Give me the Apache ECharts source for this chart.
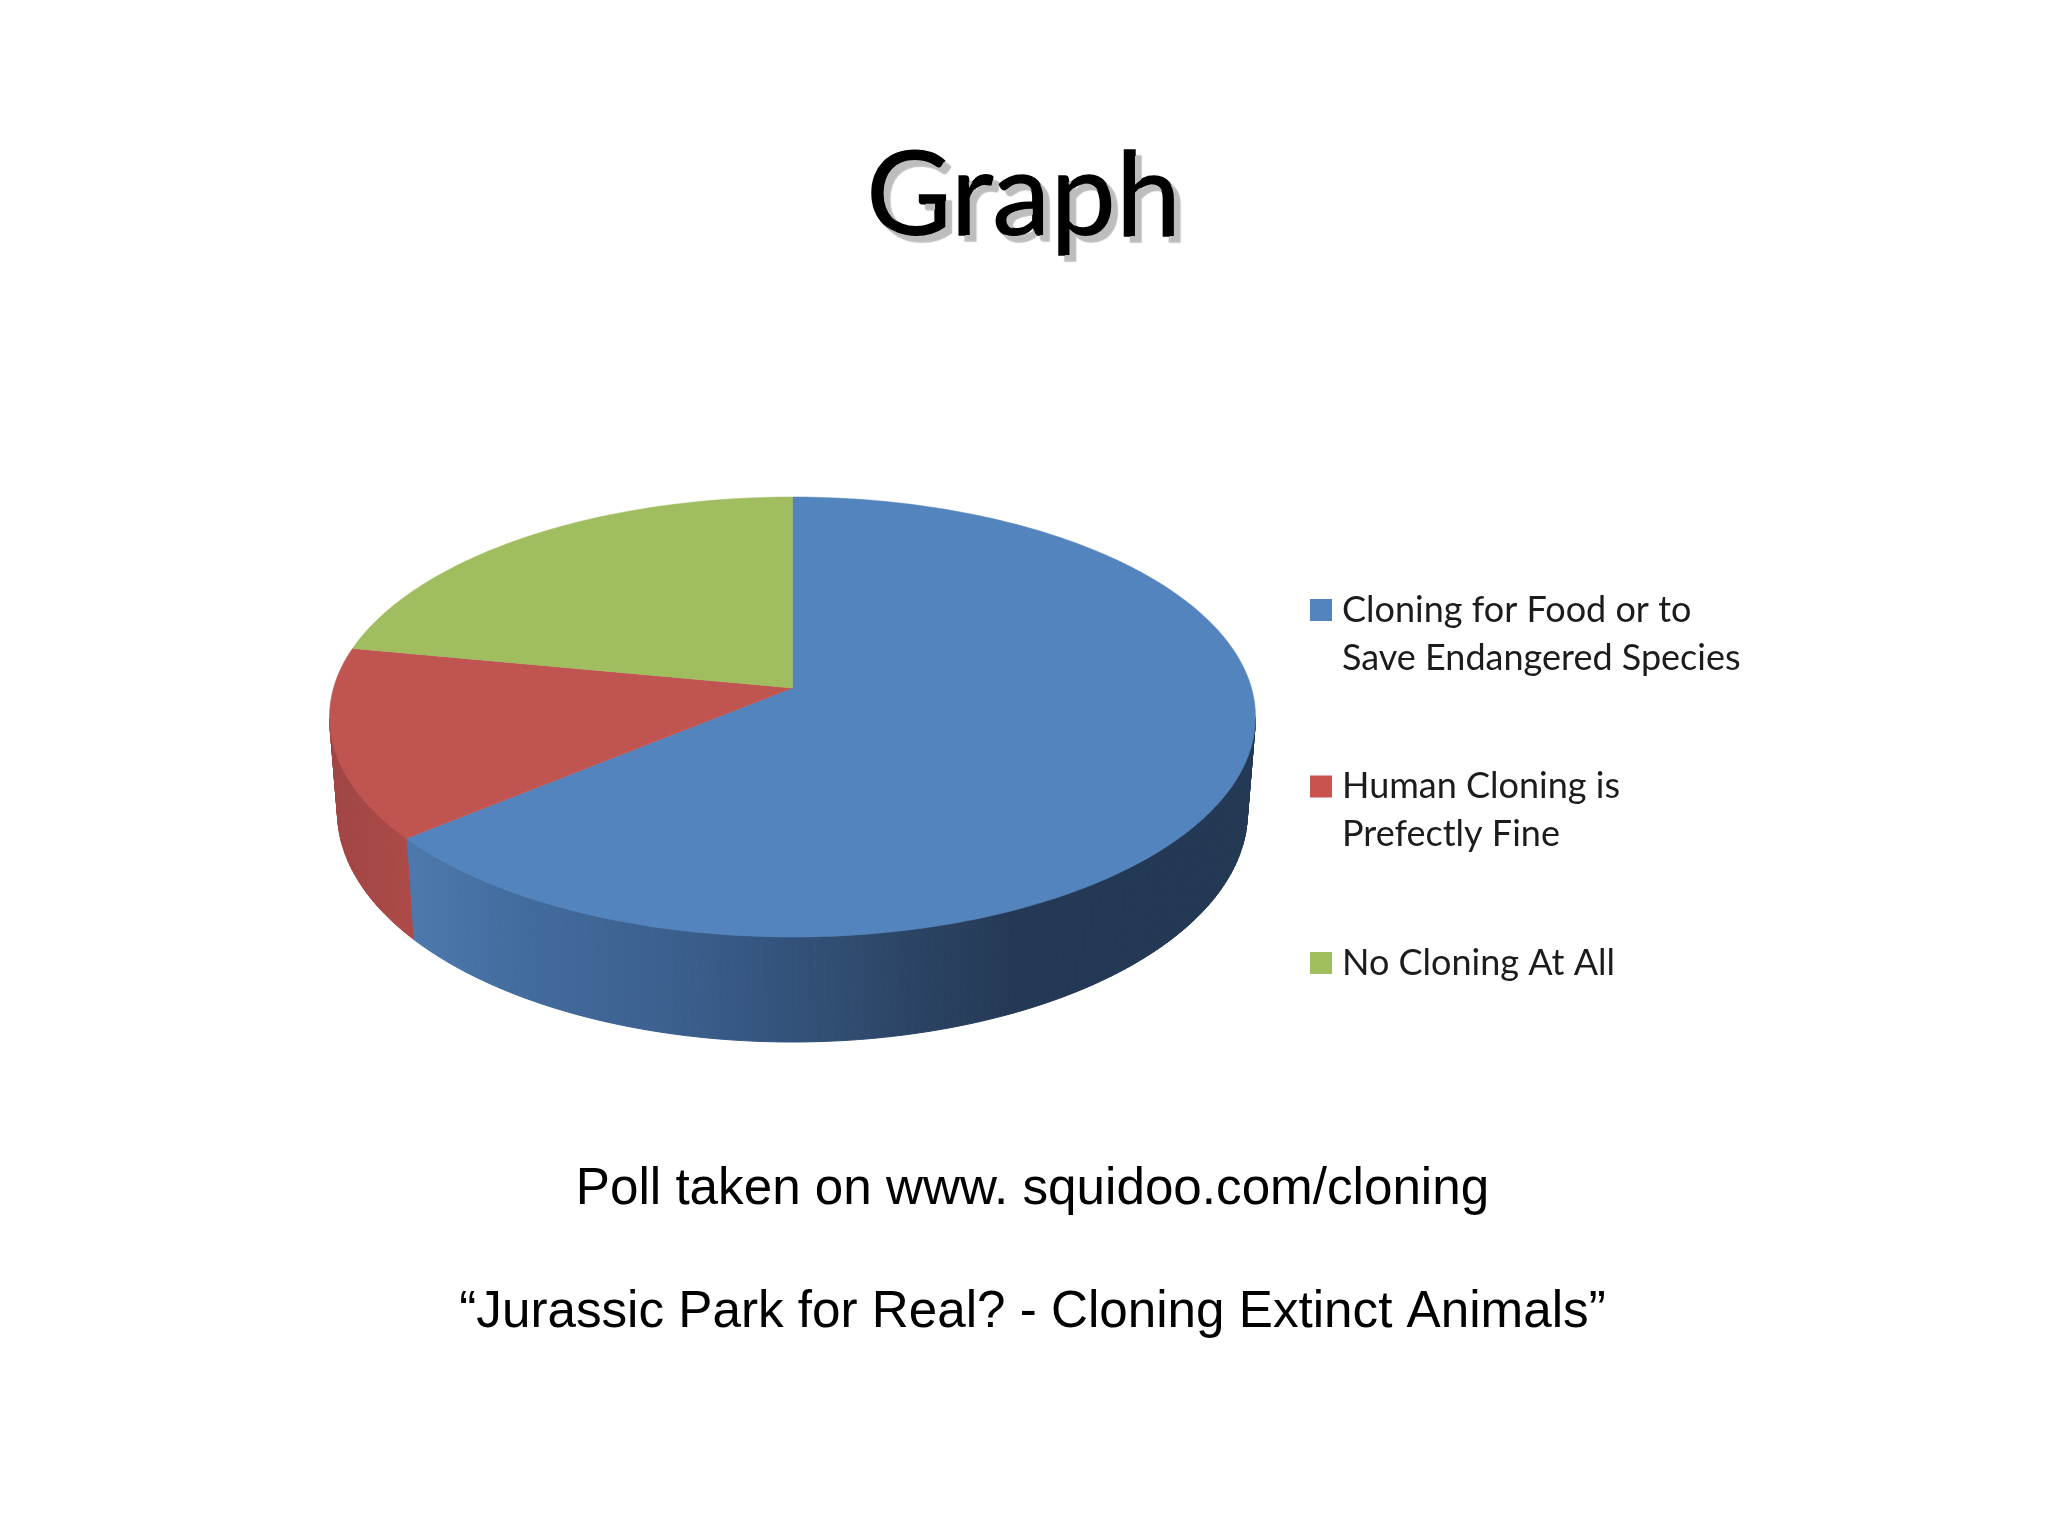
<!DOCTYPE html>
<html>
<head>
<meta charset="utf-8">
<style>html,body{margin:0;padding:0;background:#fff}#c{width:2048px;height:1536px}</style>
<script src="https://cdn.jsdelivr.net/npm/echarts@6/dist/echarts.min.js"></script>
</head>
<body>
<div id="c"></div>
<script>
const categories = ['Cloning for Food or to\nSave Endangered Species', 'Human Cloning is\nPrefectly Fine', 'No Cloning At All'];
const values = [64, 14, 22];
const topColors = ['#5484bd', '#c05451', '#a0bd60'];
const legendColors = ['#5484bd', '#c9534f', '#a2bf5e'];
const titleText = 'Graph';
const noteLines = ['Poll taken on www. squidoo.com/cloning', '\u201cJurassic Park for Real? - Cloning Extinct Animals\u201d'];

const total = values.reduce((a, b) => a + b, 0);
const topDisc = { cx: 792.5, cy: 717, rx: 463, ry: 220 };
const bottomDisc = { cx: 792.5, cy: 812, rx: 455, ry: 230 };
const tilt = -0.132;
const stretch = Math.sqrt(1 - tilt * tilt);

function project(disc, deg) {
  const a = deg * Math.PI / 180, u = Math.sin(a), v = -Math.cos(a), w = 1 + tilt * v;
  return [disc.cx + disc.rx * stretch * u / w, disc.cy + disc.ry * (v + tilt) / w];
}
function arc(disc, from, to) {
  const pts = [], n = Math.max(2, Math.ceil(Math.abs(to - from)));
  for (let i = 0; i <= n; i++) pts.push(project(disc, from + (to - from) * i / n));
  return pts;
}
const wallFills = [
  { type: 'linear', x: 400, y: 0, x2: 1255, y2: 0, global: true, colorStops: [
    { offset: 0, color: '#4d7aae' }, { offset: 0.15, color: '#426b9d' }, { offset: 0.3, color: '#3c6190' },
    { offset: 0.46, color: '#33527a' }, { offset: 0.6, color: '#2b4464' }, { offset: 0.72, color: '#243955' }, { offset: 1, color: '#223853' }] },
  { type: 'linear', x: 330, y: 0, x2: 410, y2: 0, global: true, colorStops: [
    { offset: 0, color: '#9f4544' }, { offset: 1, color: '#ac4a47' }] },
  '#7f9a48'
];

let cum = 0;
const series = categories.map((name, i) => {
  const start = cum / total * 360; cum += values[i];
  const end = cum / total * 360;
  return {
    type: 'custom', name, coordinateSystem: 'none', silent: true,
    itemStyle: { color: legendColors[i] },
    data: [[start, end, values[i]]],
    renderItem: (params, api) => {
      const a = api.value(0), b = api.value(1);
      const apex = [topDisc.cx, topDisc.cy + topDisc.ry * tilt];
      const upper = arc(topDisc, a, b), lower = arc(bottomDisc, a, b);
      const children = [];
      const steps = upper.length - 1;
      for (let k = 0; k < steps; k++) {
        const mid = a + (b - a) * (k + 0.5) / steps;
        if (-Math.cos(mid * Math.PI / 180) < -tilt) continue; // back of the disc is hidden
        children.push({ type: 'polygon', z2: 1,
          shape: { points: [upper[k], upper[k + 1], lower[k + 1], lower[k]] },
          style: { fill: wallFills[i], stroke: wallFills[i], lineWidth: 1 } });
      }
      children.push({ type: 'polygon', z2: 10,
        shape: { points: [apex].concat(upper) },
        style: { fill: topColors[i], stroke: topColors[i], lineWidth: 0.5, lineJoin: 'round' } });
      return { type: 'group', children };
    }
  };
});

const chart = echarts.init(document.getElementById('c'), null, { renderer: 'canvas' });
chart.setOption({
  backgroundColor: '#ffffff',
  animation: false,
  title: [
    { text: titleText, left: 1019, top: 122, textAlign: 'center',
      textStyle: { fontFamily: 'Lato', fontWeight: 'normal', fontSize: 117, color: '#000', lineHeight: 140,
        textBorderColor: '#000', textBorderWidth: 1.5, textShadowColor: '#bdbdbd', textShadowOffsetX: 6, textShadowOffsetY: 6, textShadowBlur: 1 } },
    { text: noteLines[0], left: 1027.5, top: 1153, textAlign: 'center',
      textStyle: { fontFamily: 'Liberation Sans', fontWeight: 'normal', fontSize: 51.2, color: '#000', lineHeight: 64 } },
    { text: noteLines[1], left: 1027.5, top: 1276, textAlign: 'center',
      textStyle: { fontFamily: 'Liberation Sans', fontWeight: 'normal', fontSize: 51.2, color: '#000', lineHeight: 64 } }
  ],
  legend: {
    orient: 'vertical', left: 1310, top: 538, itemWidth: 22, itemHeight: 22, itemGap: 32.5, padding: 0,
    selectedMode: false, icon: 'rect', align: 'left',
    data: categories,
    formatter: n => n.indexOf('\n') >= 0 ? '\n' + n : '\n' + n + '\n ',
    textStyle: { fontFamily: 'Lato', fontSize: 36, lineHeight: 48, color: '#1c1c1c', padding: [0, 0, 0, 5] }
  },
  series
});
</script>
</body>
</html>
